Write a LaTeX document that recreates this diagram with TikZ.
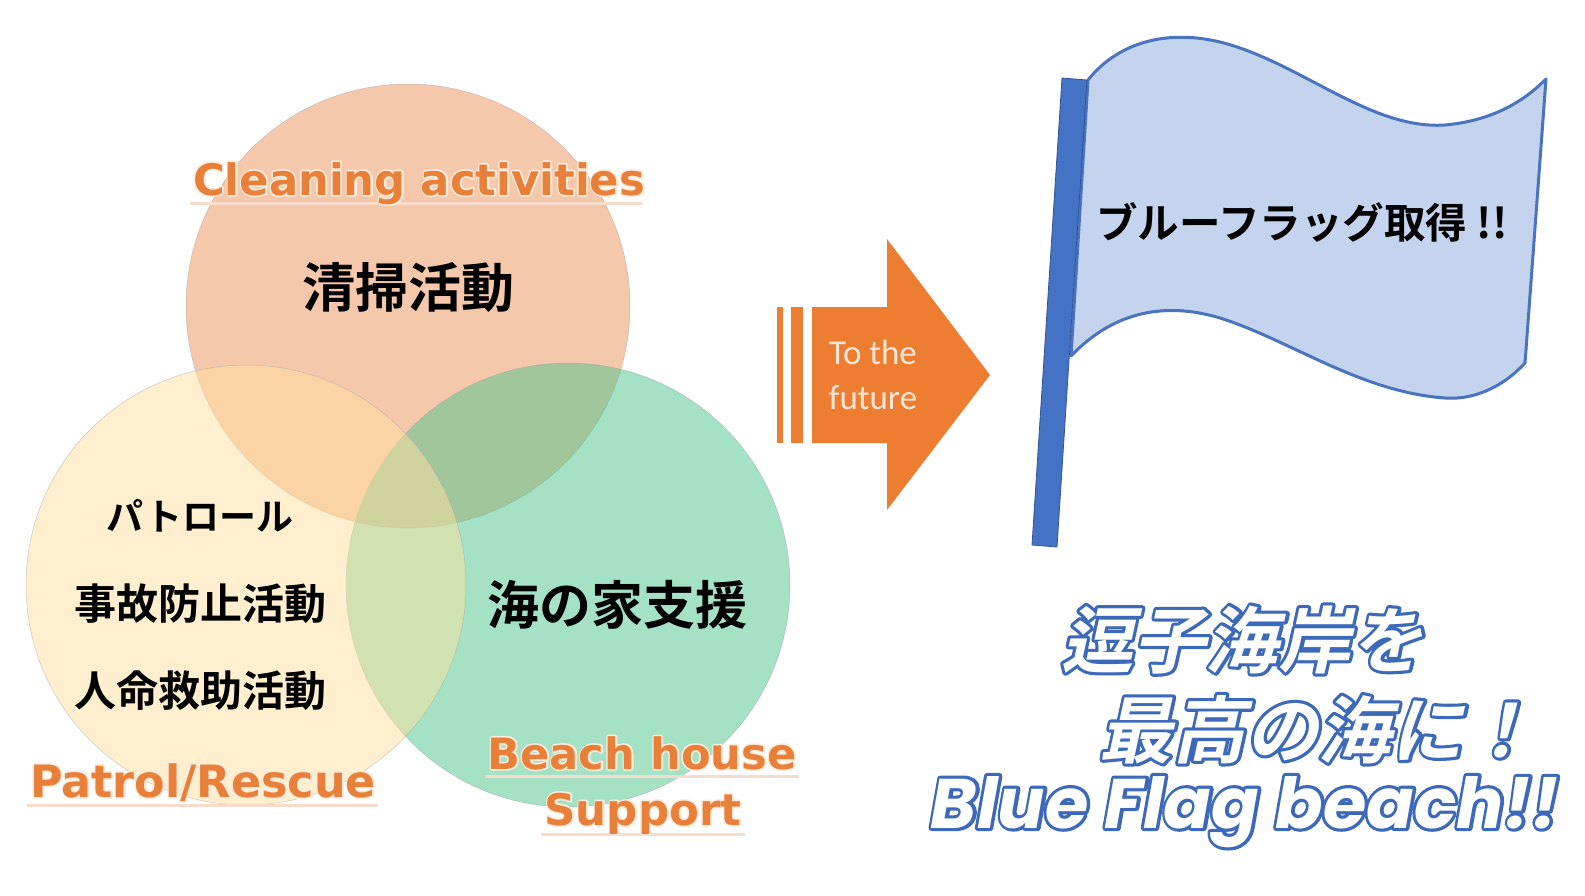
\documentclass[tikz,border=0pt]{standalone}
\usepackage{fontspec}
\newfontfamily\jp{Noto Sans CJK JP}[UprightFont=* Bold]
\newfontfamily\jpsl{Noto Sans CJK JP}[UprightFont=* Bold, FakeSlant=0.22]
\newfontfamily\labfont{DejaVu Sans}[UprightFont=* Bold]
\newfontfamily\popfont{Poppins}[UprightFont=* Bold Italic]
\newfontfamily\calfont{Carlito}
% outline drawn behind, then the plain glyphs on top
\newcommand\outlined[1]{\rlap{\special{pdf:literal 2 Tr 6 w 1 j 0.235 0.412 0.725 RG}#1\special{pdf:literal 0 Tr}}#1}
\newcommand\glowed[1]{\rlap{\special{pdf:literal 2 Tr 3 w 1 j 0.988 0.925 0.871 RG}#1\special{pdf:literal 0 Tr}}#1}
\definecolor{cOr}{RGB}{239,147,89}
\definecolor{cYe}{RGB}{255,225,161}
\definecolor{cGr}{RGB}{77,197,141}
\definecolor{cLab}{RGB}{233,128,58}
\definecolor{cLine}{RGB}{247,220,204}
\definecolor{cArrow}{RGB}{237,125,49}
\definecolor{cArrTxt}{RGB}{251,229,214}
\definecolor{cPole}{RGB}{68,114,196}
\definecolor{cPoleD}{RGB}{47,85,151}
\definecolor{cFlag}{RGB}{197,212,238}
\definecolor{cFlagL}{RGB}{74,115,192}
\tikzset{
  venn/.style={fill opacity=0.5, draw=black!35, draw opacity=0.6, line width=0.5pt},
  lab/.style={text=cLab, inner sep=0pt, anchor=base},
  uline/.style={draw=cLine, line width=3pt},
  jtext/.style={text=black, inner sep=0pt, font=\jp},
  slog/.style={inner sep=0pt, anchor=base, text=white},
  arrtxt/.style={text=cArrTxt, inner sep=0pt, font=\calfont\fontsize{35}{45}\selectfont, align=center},
}
\begin{document}
\begin{tikzpicture}[x=1pt,y=-1pt]
\useasboundingbox (0,0) rectangle (1585,895);
\fill[white] (0,0) rectangle (1585,895);

% Venn circles
\filldraw[venn, fill=cOr] (408,306) circle (222);
\filldraw[venn, fill=cGr] (568,585) circle (222);
\filldraw[venn, fill=cYe] (246,585) circle (220);

% orange labels
\draw[uline] (190,203) -- (642,203);
\node[lab] (cl) at (419,195) {\resizebox{452pt}{!}{\labfont\fontsize{40}{48}\selectfont\glowed{Cleaning activities}}};
\draw[uline] (27,805) -- (378,805);
\node[lab] (pr) at (203,797) {\resizebox{346pt}{!}{\labfont\fontsize{40}{48}\selectfont\glowed{Patrol/Rescue}}};
\draw[uline] (485,776) -- (799,776);
\node[lab] (bh) at (642,769) {\resizebox{309pt}{!}{\labfont\fontsize{40}{48}\selectfont\glowed{Beach house}}};
\draw[uline] (541,834) -- (745,834);
\node[lab] (sp) at (643,825) {\resizebox{197pt}{!}{\labfont\fontsize{40}{48}\selectfont\glowed{Support}}};

% Japanese texts in circles
\node[jtext, font=\jp\fontsize{53}{60}\selectfont] (seiso) at (408,288) {清掃活動};
\node[jtext, font=\jp\fontsize{37}{44}\selectfont] (pat) at (200,516) {パトロール};
\node[jtext, font=\jp\fontsize{42}{48}\selectfont] (jiko) at (200,604) {事故防止活動};
\node[jtext, font=\jp\fontsize{42}{48}\selectfont] (jinmei) at (200,691) {人命救助活動};
\node[jtext, font=\jp\fontsize{52}{60}\selectfont] (umi) at (617,605) {海の家支援};

% arrow
\fill[cArrow] (777,307) rectangle (783,443);
\fill[cArrow] (791,307) rectangle (803,443);
\fill[cArrow] (812,307) -- (887,307) -- (887,239) -- (990,375) -- (887,510) -- (887,443) -- (812,443) -- cycle;
\node[arrtxt] (fut) at (873,375) {To the\\future};

% flag
\filldraw[fill=cFlag, draw=cFlagL, line width=3pt, line join=round]
  (1088,80) .. controls (1120,40) and (1170,30) .. (1220,42)
  .. controls (1300,62) and (1370,130) .. (1445,125)
  .. controls (1500,120) and (1530,95) .. (1546,79)
  -- (1525,363)
  .. controls (1500,390) and (1470,400) .. (1445,398)
  .. controls (1360,392) and (1290,340) .. (1220,318)
  .. controls (1160,300) and (1110,315) .. (1071,356) -- cycle;
\filldraw[fill=cPole, draw=cPoleD, line width=0.8pt] (1062,78) -- (1087,80) -- (1057,547) -- (1032,545) -- cycle;
\node[jtext, font=\jp\fontsize{41.5}{48}\selectfont] (bf) at (1302,222) {ブルーフラッグ取得 !!};

% slogan
\node[slog] (s1) at (1242,667) {\resizebox{362pt}{!}{\jpsl\fontsize{70}{80}\selectfont\outlined{逗子海岸を}}};
\node[slog] (s2) at (1318,757) {\resizebox{437pt}{!}{\jpsl\fontsize{70}{80}\selectfont\outlined{最高の海に！}}};
\node[slog] (s3) at (1245,828) {\resizebox{628pt}{!}{\popfont\fontsize{66}{76}\selectfont\outlined{Blue Flag beach!!}}};
\end{tikzpicture}
\end{document}
